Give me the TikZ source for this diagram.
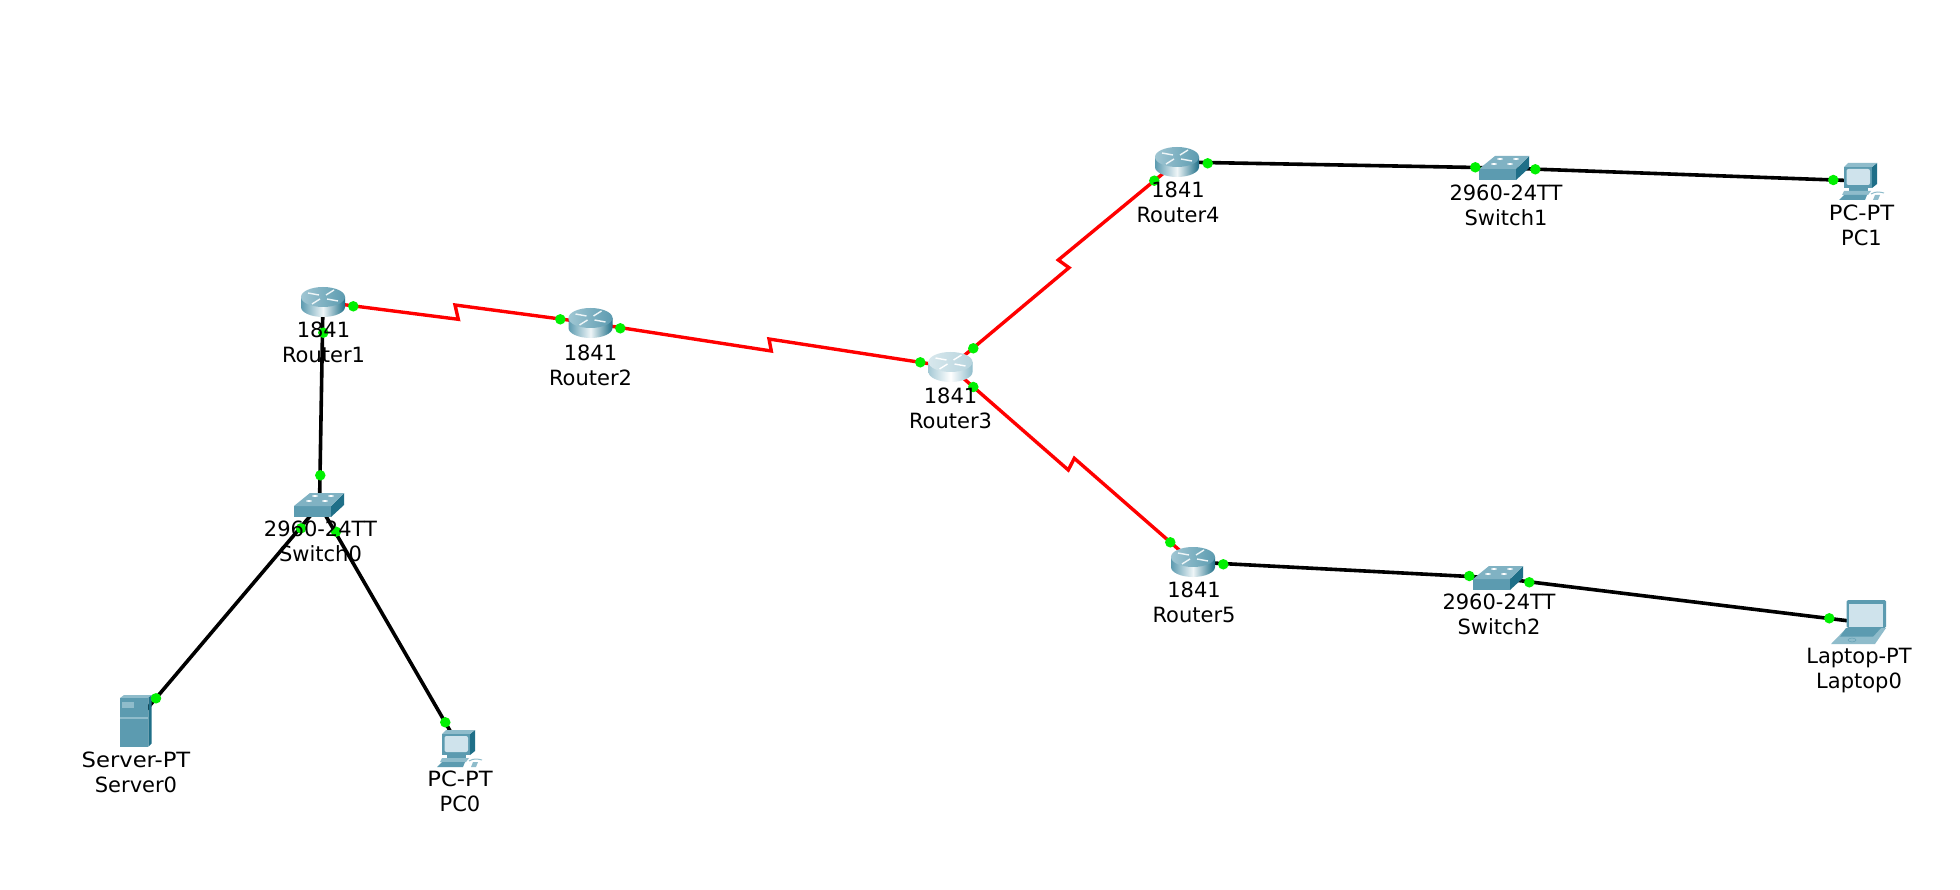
\documentclass[tikz,border=0pt]{standalone}
\usepackage{fontspec}
\setmainfont{DejaVu Sans}
\newfontfamily\widefont[FakeStretch=1.08]{DejaVu Sans}
\definecolor{cyanA}{HTML}{5C9BB0}
\definecolor{cyanB}{HTML}{1F6F88}
\definecolor{cyanC}{HTML}{8FBCCB}
\definecolor{scr}{HTML}{CFE3EC}
\definecolor{dotgreen}{HTML}{00F000}
\tikzset{
  x=1pt,y=-1pt,
  lan/.style={draw=black,line width=3.6pt},
  wan/.style={draw=red,line width=3.4pt,line join=miter},
  dot/.style={circle,fill=dotgreen,draw=none,minimum size=10.5pt,inner sep=0pt},
  lbl/.style={font=\fontsize{21}{25}\selectfont,align=center,inner sep=0pt},
  dev/.style={inner sep=0pt,minimum size=1pt},
}
% x, y, side edge left, side centre, side edge right, top left, top right, arrows
\newcommand{\routerpic}[8]{%
  \begin{scope}[shift={(#1,#2)}]
    \shade[left color=#3,right color=#5,middle color=#4] (-22,-5) -- (-22,5) .. controls (-22,10.5) and (-12,15) .. (0,15) .. controls (12,15) and (22,10.5) .. (22,5) -- (22,-5) -- cycle;
    \shade[left color=#6,right color=#7] (0,-5) ellipse[x radius=22,y radius=10];
    \draw[#8,line width=1.4pt] (-15,-9) -- (-4,-7);
    \draw[#8,line width=1.4pt] (3,-7) -- (11,-12);
    \draw[#8,line width=1.4pt] (-11,2) -- (-3,-3);
    \draw[#8,line width=1.4pt] (4,-3) -- (15,-1);
  \end{scope}}
\newcommand{\switchpic}[2]{%
  \begin{scope}[shift={(#1,#2)}]
    \fill[cyanA] (-25,1) rectangle (12,12);
    \fill[cyanB] (12,1) -- (25,-12) -- (25,0) -- (12,12) -- cycle;
    \fill[cyanC!70!cyanA] (-25,1) -- (-9,-12) -- (25,-12) -- (12,1) -- cycle;
    \foreach \p in {(-4,-9),(12,-9),(-10,-4),(6,-4)}{\fill[white] \p ellipse[x radius=3,y radius=.9];}
  \end{scope}}
\newcommand{\pcpic}[2]{%
  \begin{scope}[shift={(#1,#2)}]
    \fill[cyanB] (10,-14) -- (15,-18) -- (15,3) -- (10,7) -- cycle;
    \fill[cyanC] (-18,-14) -- (-14,-18) -- (15,-18) -- (10,-14) -- cycle;
    \fill[cyanA] (-18,-14) rectangle (10,7);
    \fill[scr,rounded corners=2pt] (-15.5,-12) rectangle (8,4);
    \fill[cyanA] (-13,7) rectangle (6,10);
    \fill[cyanC] (-18,10) -- (9,10) -- (6,14) -- (-20,14) -- cycle;
    \fill[cyanA] (-18,14) -- (5,14) -- (3,19) -- (-23,19) -- cycle;
    \draw[cyanC,line width=1pt] (9,13) .. controls (14,10) and (18,11) .. (22,12);
    \fill[cyanC] (11,19) -- (13,14) -- (18,14) -- (16,19) -- cycle;
  \end{scope}}
\newcommand{\serverpic}[2]{%
  \begin{scope}[shift={(#1,#2)}]
    \fill[cyanC] (-15,-25) -- (-11,-28) -- (16.7,-28) -- (13.3,-25) -- cycle;
    \fill[cyanB] (13.3,-25) -- (16.7,-28) -- (16.7,20.5) -- (13.3,23.7) -- cycle;
    \fill[cyanA] (-15,-25) rectangle (13.3,23.7);
    \fill[cyanC] (-13,-20.7) rectangle (-0.7,-14.7);
    \draw[cyanC,line width=1.5pt] (-15,-5) -- (13.3,-5);
  \end{scope}}
\newcommand{\laptoppic}[2]{%
  \begin{scope}[shift={(#1,#2)}]
    \fill[cyanA,rounded corners=1.5pt] (-19.5,-23) rectangle (20,5);
    \fill[scr] (-17,-19) rectangle (17,4);
    \fill[cyanC] (-19.5,5) -- (20,5) -- (9,21) -- (-35,21) -- cycle;
    \fill[cyanA] (-20,5) -- (15,5) -- (7,13.7) -- (-26,13.7) -- cycle;
    \draw[cyanA] (-14,17) ellipse[x radius=4,y radius=2];
  \end{scope}}
\begin{document}
\begin{tikzpicture}
\useasboundingbox (0,0) rectangle (1960,890);
\fill[white] (0,0) rectangle (1960,890);
% anchors of the devices (icon centres)
\node[dev] (R1) at (323,302) {};
\node[dev] (R2) at (590.5,323) {};
\node[dev] (R3) at (950.5,367) {};
\node[dev] (R4) at (1177,162) {};
\node[dev] (R5) at (1193,562) {};
\node[dev] (S0) at (319.5,505) {};
\node[dev] (S1) at (1504,168) {};
\node[dev] (S2) at (1498,578) {};
\node[dev] (P0) at (460,748) {};
\node[dev] (P1) at (1862,181) {};
\node[dev] (L0) at (1866,623) {};
\node[dev] (SV) at (135,723) {};
% zigzag break points
\coordinate (z12a) at (458.3,319.3);
\coordinate (z12b) at (455,305);
\coordinate (z23a) at (771.3,351);
\coordinate (z23b) at (769,339);
\coordinate (z34a) at (1069,267.7);
\coordinate (z34b) at (1058.3,260);
\coordinate (z35a) at (1068.3,470);
\coordinate (z35b) at (1074.3,458.3);
% connectors
\draw[wan] (R1.center) -- (z12a) -- (z12b) -- (R2.center);
\draw[wan] (R2.center) -- (z23a) -- (z23b) -- (R3.center);
\draw[wan] (R3.center) -- (z34a) -- (z34b) -- (R4.center);
\draw[wan] (R3.center) -- (z35a) -- (z35b) -- (R5.center);
\draw[lan] (R1.center) -- (S0.center);
\draw[lan] (S0.center) -- (SV.center);
\draw[lan] (S0.center) -- (P0.center);
\draw[lan] (R4.center) -- (S1.center);
\draw[lan] (S1.center) -- (P1.center);
\draw[lan] (R5.center) -- (S2.center);
\draw[lan] (S2.center) -- (L0.center);
% icons
\routerpic{323}{302}{cyanA}{white!85!cyanC}{cyanB}{cyanC!85!white}{cyanA}{white!85!cyanC}
\routerpic{590.5}{323}{cyanA}{white!85!cyanC}{cyanB}{cyanC!85!white}{cyanA}{white!85!cyanC}
\routerpic{950.5}{367}{cyanC!80!white}{white}{cyanC}{cyanC!35!white}{cyanC!65!white}{white}
\routerpic{1177}{162}{cyanA}{white!85!cyanC}{cyanB}{cyanC!85!white}{cyanA}{white!85!cyanC}
\routerpic{1193}{562}{cyanA}{white!85!cyanC}{cyanB}{cyanC!85!white}{cyanA}{white!85!cyanC}
\switchpic{319}{505}
\switchpic{1504}{168}
\switchpic{1498}{578}
\pcpic{460}{748}
\pcpic{1862}{181}
\laptoppic{1866}{623}
\serverpic{135}{723}
% port lights
\foreach \n/\x/\y in {a/353.3/306.3,b/560.3/319.3,c/620.3/328.3,d/920.3/362.3,e/973.3/348.3,f/973.3/387,g/1154.3/180.7,h/1170.3/542.3,i/1207.7/163.3,j/1475.3/167.3,k/1535.3/169.3,l/1223.3/564.3,m/1469.3/576,n/1529.3/582.3,o/1829.3/618.3,p/1833.3/180,q/323.3/332.7,r/320.3/475.3,s/301/528.3,t/336/531.7,u/156/698.3,v/445.3/722.3}
  \node[dot] (\n) at (\x,\y) {};
% labels
\node[lbl] (t1) at (323.5,342) {1841\\Router1};
\node[lbl] (t2) at (590.5,365) {1841\\Router2};
\node[lbl] (t3) at (950.5,408) {1841\\Router3};
\node[lbl] (t4) at (1178,202) {1841\\Router4};
\node[lbl] (t5) at (1194,602) {1841\\Router5};
\node[lbl] (t6) at (320.5,541) {2960-24TT\\Switch0};
\node[lbl] (t7) at (1506,205) {2960-24TT\\Switch1};
\node[lbl] (t8) at (1499,614) {2960-24TT\\Switch2};
\node[lbl] (t9) at (136,772) {{\widefont Server-PT}\\Server0};
\node[lbl] (t10) at (460,791) {{\widefont PC-PT}\\PC0};
\node[lbl] (t11) at (1861.5,225) {{\widefont PC-PT}\\PC1};
\node[lbl] (t12) at (1859,671) {Laptop-PT\\Laptop0};
\end{tikzpicture}
\end{document}
